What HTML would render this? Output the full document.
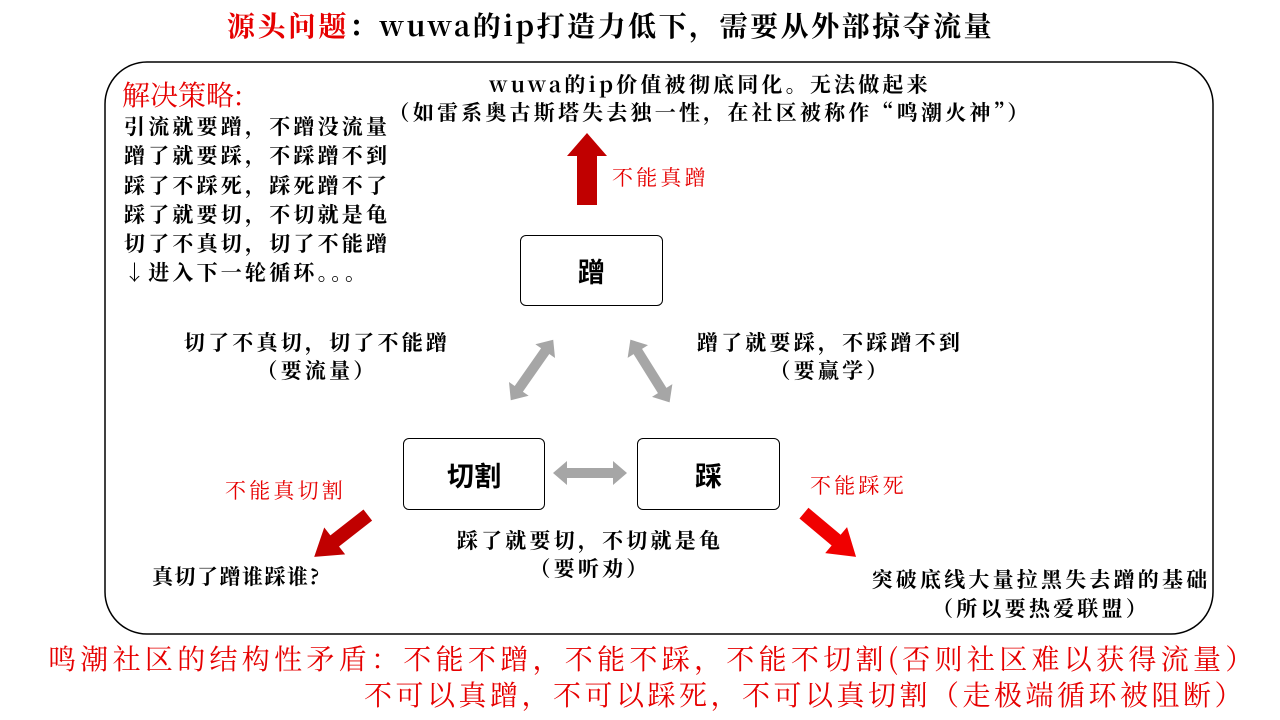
<!DOCTYPE html>
<html><head><meta charset="utf-8"><style>
body{margin:0;width:1280px;height:720px;background:#fff;position:relative;overflow:hidden;font-family:"Noto Serif CJK SC","Liberation Serif",serif;font-weight:bold;color:#000}
.t{position:absolute;white-space:nowrap;line-height:1}
.c{text-align:center}
.r{color:#e60000}
svg{position:absolute;left:0;top:0}
.box{position:absolute;border:1px solid #000;border-radius:6px;background:#fff;display:flex;align-items:center;justify-content:center;font-family:"Noto Sans CJK SC",sans-serif;font-size:27px;font-weight:bold}
.s{font-size:21px;letter-spacing:3.2px}
</style></head><body>
<svg width="1280" height="720">
<rect x="105" y="62" width="1108" height="572" rx="42" fill="none" stroke="#000" stroke-width="1.5"/>
<polygon points="587,133 607,156 597,156 597,205 577,205 577,156 567,156" fill="#c00000"/>
<g fill="#a6a6a6">
<polygon points="553,473 567,461 567,468 613,468 613,461 627,473 613,485 613,478 567,478 567,485"/>
<g transform="translate(532,370) rotate(-55)"><polygon points="-37,0 -23,-12 -23,-5 23,-5 23,-12 37,0 23,12 23,5 -23,5 -23,12"/></g>
<g transform="translate(650,371) rotate(58)"><polygon points="-37,0 -23,-12 -23,-5 23,-5 23,-12 37,0 23,12 23,5 -23,5 -23,12"/></g>
</g>
<g transform="translate(341,536) rotate(142)"><polygon points="-34,-7 8,-7 8,-17 34,0 8,17 8,7 -34,7" fill="#c00000"/></g>
<g transform="translate(830,535) rotate(40)"><polygon points="-34,-7 8,-7 8,-17 34,0 8,17 8,7 -34,7" fill="#f00000"/></g>
</svg>
<div class="t" style="left:227px;top:11px;font-size:28px;letter-spacing:2.5px"><span class="r">源头问题</span>：wuwa的ip打造力低下，需要从外部掠夺流量</div>
<div class="t r" style="left:122px;top:80px;font-size:28px;font-weight:normal">解决策略:</div>
<div class="t s" style="left:124px;top:112px;line-height:29.3px">引流就要蹭，不蹭没流量<br>蹭了就要踩，不踩蹭不到<br>踩了不踩死，踩死蹭不了<br>踩了就要切，不切就是龟<br>切了不真切，切了不能蹭<br>↓进入下一轮循环。。。</div>
<div class="t c s" style="left:360px;width:700px;top:70px;line-height:28px">wuwa的ip价值被彻底同化。无法做起来<br>（如雷系奥古斯塔失去独一性，在社区被称作“鸣潮火神”）</div>
<div class="t r s" style="left:612px;top:167px;font-weight:normal">不能真蹭</div>
<div class="box" style="left:520px;top:235px;width:141px;height:69px">蹭</div>
<div class="box" style="left:403px;top:438px;width:140px;height:70px">切割</div>
<div class="box" style="left:637px;top:438px;width:141px;height:70px">踩</div>
<div class="t c s" style="left:157px;width:320px;top:328px;line-height:28px">切了不真切，切了不能蹭</div>
<div class="t c s" style="left:157px;width:320px;top:356px;line-height:28px">（要流量）</div>
<div class="t c s" style="left:670px;width:320px;top:328px;line-height:28px">蹭了就要踩，不踩蹭不到<br>（要赢学）</div>
<div class="t c s" style="left:430px;width:320px;top:526px;line-height:28px">踩了就要切，不切就是龟<br>（要听劝）</div>
<div class="t r s" style="left:225px;top:480px;font-weight:normal">不能真切割</div>
<div class="t r s" style="left:810px;top:475px;font-weight:normal">不能踩死</div>
<div class="t s" style="left:152px;top:566px;letter-spacing:1.5px">真切了蹭谁踩谁?</div>
<div class="t c s" style="left:856px;width:370px;top:565px;line-height:29px">突破底线大量拉黑失去蹭的基础<br>（所以要热爱联盟）</div>
<div class="t r" style="left:48px;top:644px;font-size:28px;letter-spacing:4.3px;font-weight:normal">鸣潮社区的结构性矛盾：不能不蹭，不能不踩，不能不切割(否则社区难以获得流量）</div>
<div class="t r" style="left:364px;top:680px;font-size:28px;letter-spacing:3.5px;font-weight:normal">不可以真蹭，不可以踩死，不可以真切割（走极端循环被阻断）</div>
</body></html>
